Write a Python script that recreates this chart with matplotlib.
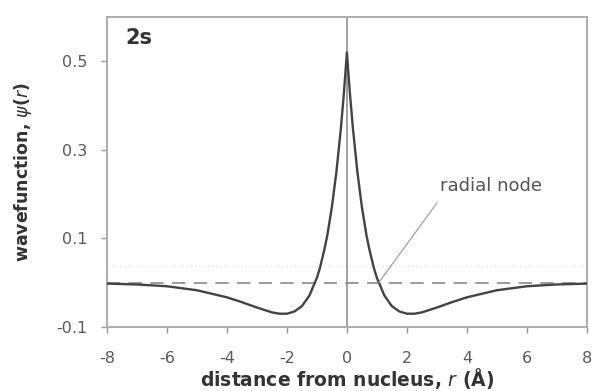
import matplotlib
matplotlib.use("Agg")
import matplotlib.pyplot as plt

# distance from nucleus r (Å) and wavefunction psi(r)
r_pos = [0.0, 0.1, 0.2, 0.35, 0.5, 0.65, 0.75, 0.9, 1.0, 1.25, 1.5, 1.75, 2.0,
         2.25, 2.5, 3.0, 3.5, 4.0, 5.0, 6.0, 7.0, 8.0]
psi_pos = [0.52, 0.428, 0.349, 0.250, 0.171, 0.108, 0.075, 0.033, 0.011, -0.029,
           -0.053, -0.065, -0.070, -0.070, -0.067, -0.056, -0.044, -0.033,
           -0.017, -0.008, -0.004, -0.002]

r_vals = [-x for x in r_pos[:0:-1]] + r_pos
psi_vals = psi_pos[:0:-1] + psi_pos

x_ticks = [-8, -6, -4, -2, 0, 2, 4, 6, 8]
y_ticks = [-0.1, 0.1, 0.3, 0.5]
y_tick_labels = ["-0.1", "0.1", "0.3", "0.5"]
node_r = 1.06

fig = plt.figure(figsize=(5.94, 3.91), dpi=100)
ax = fig.add_axes([0.180, 0.1637, 0.808, 0.7928])

ax.axvline(0, color="#9a9a9a", lw=1.3, zorder=1)
ax.axhline(0, color="#8a8a8a", lw=1.2, ls=(0, (8, 5)), zorder=1)
ax.axhline(0.037, color="#e4e4e4", lw=1.0, ls=(0, (1, 2)), zorder=0)
ax.plot(r_vals, psi_vals, color="#444444", lw=1.7, zorder=3)

ax.annotate("", xy=(node_r, 0.0), xytext=(3.0, 0.18),
            arrowprops=dict(arrowstyle="-", color="#a0a0a0", lw=0.9,
                            shrinkA=0, shrinkB=0))
ax.text(4.8, 0.218, "radial node", ha="center", va="center", fontsize=13,
        color="#555555")

ax.text(-7.4, 0.553, "2s", fontsize=15, fontweight="bold", color="#333333",
        ha="left", va="center")

ax.set_xlim(-8, 8)
ax.set_ylim(-0.1, 0.6)
ax.set_xticks(x_ticks)
ax.set_xticklabels([str(v) for v in x_ticks])
ax.set_yticks(y_ticks)
ax.set_yticklabels(y_tick_labels)
ax.tick_params(direction="out", length=4, width=1, color="#999999",
               labelsize=11.5, labelcolor="#5a5a5a")
ax.tick_params(axis="x", pad=13)
ax.tick_params(axis="y", pad=10)

for s in ax.spines.values():
    s.set_color("#a8a8a8")
    s.set_linewidth(1.3)

ax.set_xlabel(r"distance from nucleus, $\mathit{r}$ (Å)", fontsize=13.5,
              fontweight="bold", color="#333333")
ax.xaxis.set_label_coords(0.5, -0.125)
ax.set_ylabel(r"wavefunction, $\psi$($\mathit{r}$)", fontsize=12.5,
              fontweight="bold", color="#333333")
ax.yaxis.set_label_coords(-0.152, 0.5)

fig.savefig("out.png", dpi=100)
